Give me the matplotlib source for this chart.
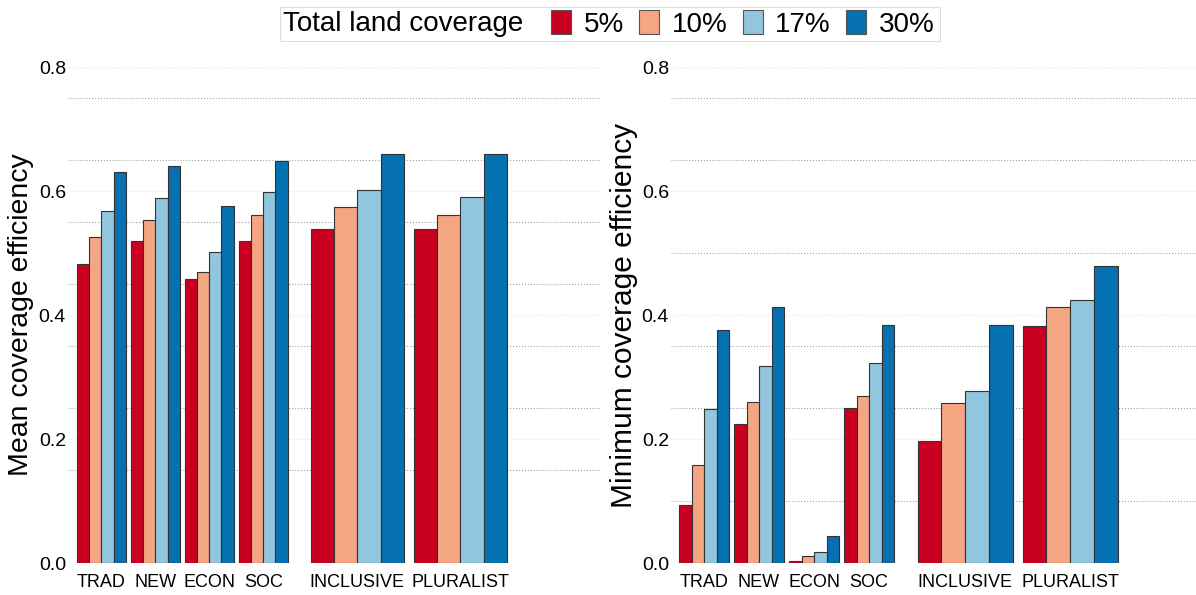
import matplotlib
matplotlib.use("Agg")
import matplotlib.pyplot as plt
from matplotlib.patches import Patch, Rectangle
import numpy as np

plt.rcParams['font.family'] = ['Liberation Sans', 'DejaVu Sans']

groups = ['TRAD', 'NEW', 'ECON', 'SOC', 'INCLUSIVE', 'PLURALIST']
levels = ['5%', '10%', '17%', '30%']
colors = ['#ca0020', '#f4a582', '#92c5de', '#0571b0']

# mean coverage efficiency, one list per land coverage level
mean_5 = [0.482, 0.519, 0.458, 0.520, 0.538, 0.538]
mean_10 = [0.526, 0.554, 0.470, 0.561, 0.575, 0.562]
mean_17 = [0.567, 0.588, 0.502, 0.598, 0.602, 0.591]
mean_30 = [0.630, 0.641, 0.576, 0.648, 0.660, 0.660]

# minimum coverage efficiency
min_5 = [0.094, 0.224, 0.003, 0.250, 0.197, 0.382]
min_10 = [0.158, 0.259, 0.011, 0.270, 0.258, 0.413]
min_17 = [0.248, 0.317, 0.018, 0.323, 0.278, 0.424]
min_30 = [0.376, 0.413, 0.044, 0.384, 0.384, 0.479]

# layout of the groups (small groups then two wide ones)
widths = [1.0, 1.0, 1.0, 1.0, 1.9, 1.9]
gaps = [0.0, 0.1, 0.1, 0.1, 0.47, 0.2]
starts = np.cumsum(gaps) + np.concatenate([[0], np.cumsum(widths[:-1])])

fig = plt.figure(figsize=(11.96, 5.95), dpi=100)
W, H = 1196, 595
ax1 = fig.add_axes([68 / W, 32 / H, 532 / W, 496 / H])
ax2 = fig.add_axes([671 / W, 32 / H, 525 / W, 496 / H])


def draw(ax, series, ylabel, xlim, minor_grid, lsize):
    for g in range(len(groups)):
        bw = widths[g] / 4
        for k, vals in enumerate(series):
            ax.bar(starts[g] + bw * (k + 0.5), vals[g], width=bw, color=colors[k],
                   edgecolor='#333333', linewidth=0.8, zorder=3)
    ax.set_xlim(*xlim)
    ax.set_ylim(0, 0.8)
    ax.set_yticks([0.0, 0.2, 0.4, 0.6, 0.8])
    ax.set_yticklabels(['0.0', '0.2', '0.4', '0.6', '0.8'])
    ax.set_xticks(starts + np.array(widths) / 2)
    ax.set_xticklabels(groups)
    ax.tick_params(length=0, labelsize=13, pad=8)
    ax.tick_params(axis='y', labelsize=14, pad=1.5)
    for s in ax.spines.values():
        s.set_visible(False)
    ax.grid(axis='y', color='#e6e6e6', linestyle=':', linewidth=0.8, zorder=0)
    for y in minor_grid:
        ax.axhline(y, color='#a0a0a0', linestyle=':', linewidth=0.8, zorder=1)
    ax.set_ylabel(ylabel, fontsize=lsize, labelpad=3)


draw(ax1, [mean_5, mean_10, mean_17, mean_30], 'Mean coverage efficiency',
     (-0.18, 10.67), [0.75, 0.65, 0.55, 0.45, 0.35, 0.25, 0.15], 20.5)
draw(ax2, [min_5, min_10, min_17, min_30], 'Minimum coverage efficiency',
     (-0.16, 10.34), [0.75, 0.65, 0.5, 0.35, 0.25, 0.1], 21.5)

# legend: frame, inline title, then the four swatches
fig.patches.append(Rectangle((280 / W, 1 - 41 / H), 660 / W, 34 / H,
                             transform=fig.transFigure, facecolor='white',
                             edgecolor='#dddddd', linewidth=0.8, zorder=5))
fig.text(283 / W, 1 - 24 / H, 'Total land coverage', fontsize=20,
         ha='left', va='center', zorder=6)
handles = [Patch(facecolor=c, edgecolor='#555555', linewidth=0.8) for c in colors]
leg = fig.legend(handles, levels, ncol=4, loc='center left',
                 bbox_to_anchor=(551 / W, 1 - 24 / H), fontsize=20, frameon=False,
                 handlelength=0.72, handleheight=0.9, handletextpad=0.45,
                 columnspacing=0.55, borderpad=0, borderaxespad=0)
leg.set_zorder(7)

fig.savefig('out.png', dpi=100)
